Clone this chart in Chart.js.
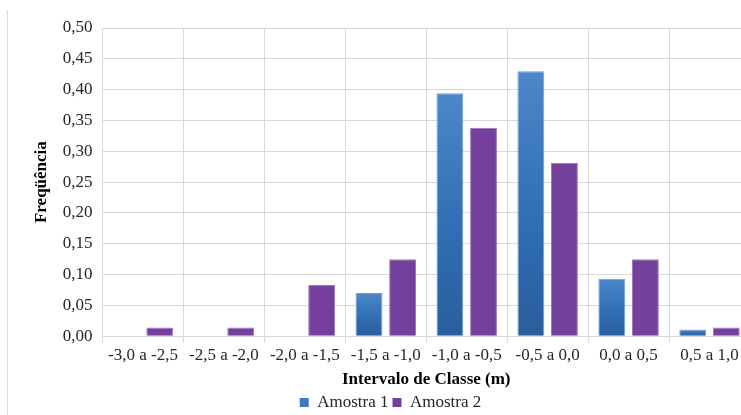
<!DOCTYPE html>
<html>
<head>
<meta charset="utf-8">
<script src="https://cdn.jsdelivr.net/npm/chart.js@4/dist/chart.umd.min.js"></script>
<style>
  html, body { margin: 0; padding: 0; background: #ffffff; overflow: hidden; }
  #wrap { width: 741px; height: 415px; overflow: hidden; position: relative; }
  canvas { display: block; }
</style>
</head>
<body>
<div id="wrap"><canvas id="c" width="760" height="421"></canvas></div>
<script>
const categories = ['-3,0 a -2,5', '-2,5 a -2,0', '-2,0 a -1,5', '-1,5 a -1,0', '-1,0 a -0,5', '-0,5 a 0,0', '0,0 a 0,5', '0,5 a 1,0'];
const amostra1 = [0, 0, 0, 0.070, 0.394, 0.430, 0.093, 0.011];
const amostra2 = [0.014, 0.014, 0.083, 0.125, 0.338, 0.281, 0.125, 0.014];
const seriesNames = ['Amostra 1', 'Amostra 2'];
const yMin = 0, yMax = 0.5, yStep = 0.05;

const FONT = "'Liberation Serif', 'Times New Roman', serif";

const gradientPlugin = {
  id: 'barGradient',
  beforeDatasetDraw(chart, args) {
    if (args.index !== 0) return;
    const ctx = chart.ctx;
    args.meta.data.forEach(el => {
      const top = Math.min(el.y, el.base), bot = Math.max(el.y, el.base);
      if (bot - top < 0.5) return;
      const g = ctx.createLinearGradient(0, top, 0, bot);
      g.addColorStop(0, '#4d87c9');
      g.addColorStop(0.6, '#2f6cb2');
      g.addColorStop(1, '#2a5e9c');
      el.options.backgroundColor = g;
    });
  }
};

const framePlugin = {
  id: 'frame',
  beforeDraw(chart) {
    const ctx = chart.ctx;
    ctx.save();
    ctx.strokeStyle = '#d9d9d9';
    ctx.lineWidth = 1;
    ctx.beginPath();
    ctx.moveTo(7.5, 10);
    ctx.lineTo(7.5, 421);
    ctx.stroke();
    ctx.restore();
  }
};

new Chart(document.getElementById('c'), {
  type: 'bar',
  data: {
    labels: categories,
    datasets: [
      {
        label: seriesNames[0],
        data: amostra1,
        backgroundColor: '#3a76bb',
        borderColor: '#6d9fd8',
        borderWidth: ctx => (ctx.raw ? 1 : 0),
        categoryPercentage: 0.83,
        barPercentage: 0.8
      },
      {
        label: seriesNames[1],
        data: amostra2,
        backgroundColor: '#74409c',
        borderColor: '#9a78bd',
        borderWidth: ctx => (ctx.raw ? 1 : 0),
        categoryPercentage: 0.83,
        barPercentage: 0.8
      }
    ]
  },
  options: {
    responsive: false,
    animation: false,
    devicePixelRatio: 1,
    layout: { padding: { left: 31, right: 10, top: 28, bottom: 0 } },
    plugins: {
      legend: {
        position: 'bottom',
        labels: {
          font: { family: FONT, size: 17 },
          color: '#262626',
          boxWidth: 9,
          boxHeight: 9,
          padding: 4,
          generateLabels(chart) {
            const cols = ['#3f78bf', '#74409c'];
            return chart.data.datasets.map((d, i) => ({
              text: d.label, fillStyle: cols[i], strokeStyle: cols[i], lineWidth: 0,
              datasetIndex: i, fontColor: '#262626'
            }));
          }
        }
      },
      tooltip: { enabled: false }
    },
    scales: {
      x: {
        grid: { color: '#d9d9d9', tickLength: 6, offset: true, drawTicks: true },
        border: { color: '#d9d9d9' },
        ticks: { font: { family: FONT, size: 17 }, color: '#262626', padding: 3, maxRotation: 0 },
        title: {
          display: true, text: 'Intervalo de Classe (m)',
          font: { family: FONT, size: 17, weight: 'bold' }, color: '#000000',
          padding: { top: 1, bottom: 0 }
        }
      },
      y: {
        min: yMin, max: yMax,
        grid: { color: '#d9d9d9', drawTicks: false },
        border: { color: '#d9d9d9' },
        ticks: {
          stepSize: yStep,
          font: { family: FONT, size: 17 }, color: '#262626', padding: 10,
          callback: v => v.toFixed(2).replace('.', ',')
        },
        title: {
          display: true, text: 'Freqüência',
          font: { family: FONT, size: 17, weight: 'bold' }, color: '#000000',
          padding: { top: 0, bottom: 4 }
        },
        afterFit(scale) { scale.width = 71.5; }
      }
    }
  },
  plugins: [gradientPlugin, framePlugin]
});
</script>
</body>
</html>
